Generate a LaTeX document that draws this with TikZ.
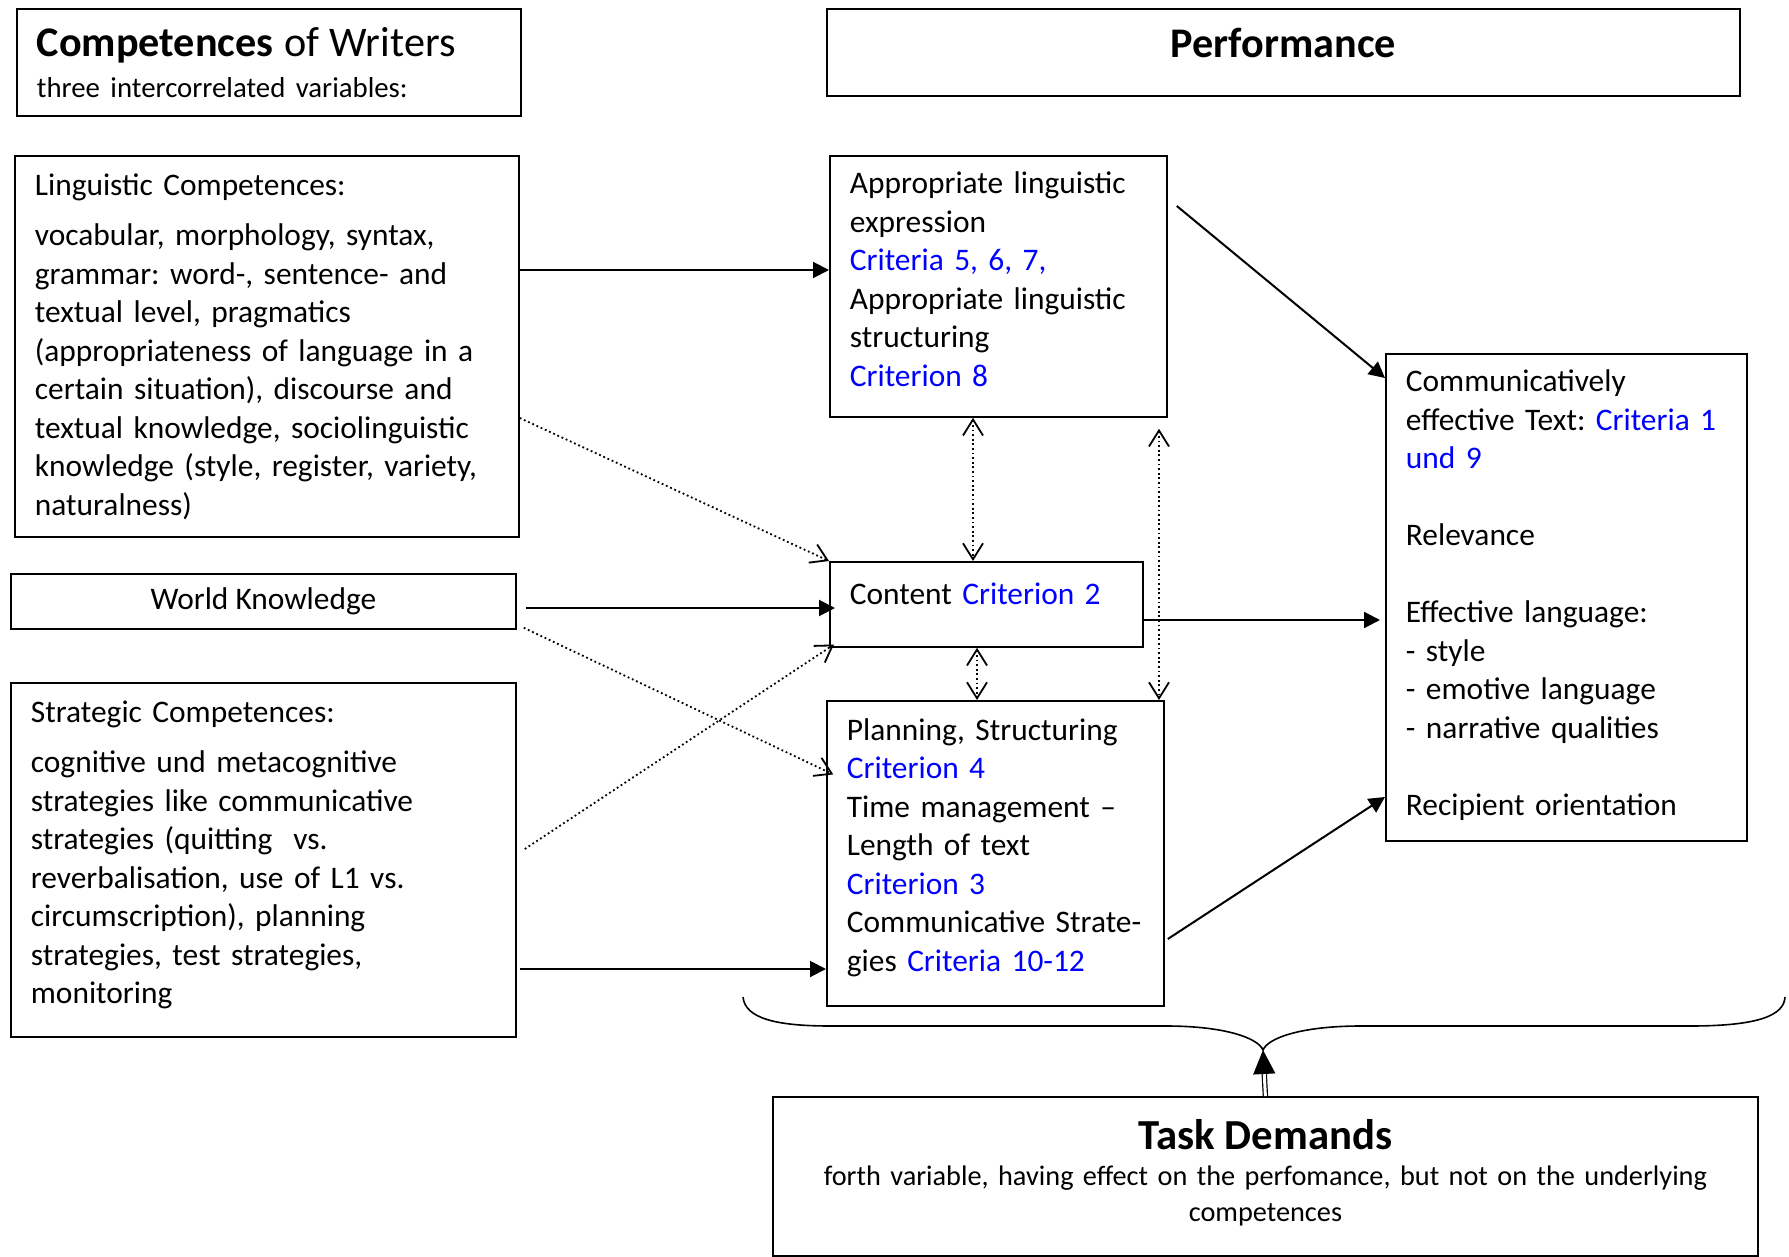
\documentclass[tikz,border=0pt]{standalone}
\usepackage{fontspec}
\setmainfont{Carlito}
\usetikzlibrary{arrows.meta, calc}
\frenchspacing
\definecolor{critblue}{RGB}{0,0,255}
\newcommand{\crit}[1]{\textcolor{critblue}{#1}}
\newcommand{\bodyfont}{\fontsize{15.7}{19.25}\selectfont}
\newcommand{\padbelow}[1]{\par\nointerlineskip\hbox{\vrule width 0pt height 0pt depth #1}}
\tikzset{
  bx/.style    = {draw, line width=0.9pt, anchor=north west, inner xsep=10pt,
                  inner ysep=0pt, font=\bodyfont},
  lbx/.style   = {bx, align=left},
  cbx/.style   = {bx, align=center},
  wire/.style  = {->, line width=1pt},
  dots/.style  = {line width=0.9pt, dash pattern=on 0.9pt off 1.4pt},
  dwire/.style = {dots, -{Straight Barb[length=8pt,width=10pt]}},
  dboth/.style = {dots, {Straight Barb[length=8pt,width=10pt]}-{Straight Barb[length=8pt,width=10pt]}},
  brace/.style = {line width=0.8pt},
  up/.style    = {-{Triangle[length=12pt,width=11pt]}, double, double distance=1.5pt,
                  line width=0.6pt},
}

\begin{document}
\begin{tikzpicture}[x=0.5pt, y=-0.5pt, >={Triangle[length=8pt,width=8pt]}]
  \useasboundingbox (0,0) rectangle (1789,1257);

  % ===== competences of writers =========================================
  \node[lbx, text width=232pt, minimum width=252pt, minimum height=53.5pt]
       (comp) at (16,8)
       {{\fontsize{21.1}{24}\selectfont\textbf{Competences} of Writers}\\[1.5pt]
        {\fontsize{14.4}{17}\selectfont three intercorrelated variables:}};

  \node[lbx, text width=232pt, minimum width=252pt, minimum height=190.5pt]
       (ling) at (14,155)
       {Linguistic Competences:\\[6pt]
        vocabular, morphology, syntax,\\
        grammar: word-, sentence- and\\
        textual level, pragmatics\\
        (appropriateness of language in a\\
        certain situation), discourse and\\
        textual knowledge, sociolinguistic\\
        knowledge (style, register, variety,\\
        naturalness)};

  \node[cbx, minimum width=252.5pt, minimum height=27.5pt]
       (world) at (10,573) {World Knowledge};

  \node[lbx, text width=232.5pt, minimum width=252.5pt, minimum height=177pt]
       (strat) at (10,682)
       {Strategic Competences:\\[6pt]
        cognitive und metacognitive\\
        strategies like communicative\\
        strategies (quitting\ \ vs.\\
        reverbalisation, use of L1 vs.\\
        circumscription), planning\\
        strategies, test strategies,\\
        monitoring\padbelow{5pt}};

  % ===== performance ====================================================
  \node[cbx, font=\fontsize{21.1}{24}\selectfont\bfseries, text depth=10pt,
        minimum width=456.5pt, minimum height=43.5pt]
       (perf) at (826,8) {Performance};

  \node[lbx, text width=148.5pt, minimum width=168.5pt, minimum height=130.5pt]
       (appr) at (829,155)
       {Appropriate linguistic\\
        expression\\
        \crit{Criteria 5, 6, 7,}\\
        Appropriate linguistic\\
        structuring\\
        \crit{Criterion 8}\padbelow{7pt}};

  \node[lbx, text width=136.5pt, text depth=11pt, minimum width=156.5pt,
        minimum height=42.5pt]
       (cont) at (829,561) {Content \crit{Criterion 2}};

  \node[lbx, text width=148.5pt, minimum width=168.5pt, minimum height=152.5pt]
       (plan) at (826,700)
       {Planning, Structuring\\
        \crit{Criterion 4}\\
        Time management --\\
        Length of text\\
        \crit{Criterion 3}\\
        Communicative Strate-\\
        gies \crit{Criteria 10-12}\padbelow{5.7pt}};

  \node[lbx, text width=160.5pt, minimum width=180.5pt, minimum height=243.5pt]
       (eff) at (1385,353)
       {Communicatively\\
        effective Text: \crit{Criteria 1}\\
        \crit{und 9}\\[\baselineskip]
        Relevance\\[\baselineskip]
        Effective language:\\
        - style\\
        - emotive language\\
        - narrative qualities\\[\baselineskip]
        Recipient orientation\padbelow{2.3pt}};

  % ===== task demands ===================================================
  \node[cbx, font=\fontsize{14.15}{18}\selectfont, text width=472.5pt,
        minimum width=492.5pt, minimum height=79.5pt]
       (task) at (772,1096)
       {{\fontsize{21.4}{25}\selectfont\bfseries Task Demands}\\
        forth variable, having effect on the perfomance, but not on the underlying\\
        competences\padbelow{4pt}};

  % ===== solid arrows ===================================================
  \draw[wire] (ling.east |- 0,270) -- (appr.west |- 0,270);
  \draw[wire, shorten >=-3pt] ($(world.east |- 0,608)+(9,0)$) -- (cont.west |- 0,608);
  \draw[wire] ($(strat.east |- 0,969)+(3,0)$) -- (plan.west |- 0,969);
  \draw[wire, shorten >=2.5pt] (cont.east |- 0,620) -- (eff.west |- 0,620);
  \draw[wire] ($(appr.east |- 0,206)+(9,0)$) -- (eff.west |- 0,378);
  \draw[wire] ($(plan.east |- 0,939)+(3,0)$) -- (eff.west |- 0,797);

  % ===== dotted arrows ==================================================
  \draw[dwire] (ling.east |- 0,418) -- (cont.north west);
  \draw[dwire, shorten >=-4pt] ($(world.south east)+(7,-2)$) -- (plan.west |- 0,771);
  \draw[dwire, shorten >=-3pt] ($(strat.east |- 0,849)+(8,0)$) -- (cont.south west);

  \draw[dboth] (appr.south -| 973,0) -- (cont.north -| 973,0);
  \draw[dboth] (cont.south -| 977,0) -- (plan.north -| 977,0);
  \draw[dboth] ($(appr.south -| 1159,0)+(0,11)$) -- (plan.north -| 1159,0);

  % ===== brace and task arrow ===========================================
  \coordinate (bracetip) at (1263,1050);
  \draw[brace] (743,997) .. controls (745,1018) and (775,1026) .. (830,1026)
               -- (1166,1026) .. controls (1225,1026) and (1258,1038) .. (bracetip)
               .. controls (1268,1038) and (1301,1026) .. (1361,1026)
               -- (1690,1026) .. controls (1760,1026) and (1784,1015) .. (1785,997);
  \draw[up] (task.north) -- (bracetip);

\end{tikzpicture}
\end{document}
